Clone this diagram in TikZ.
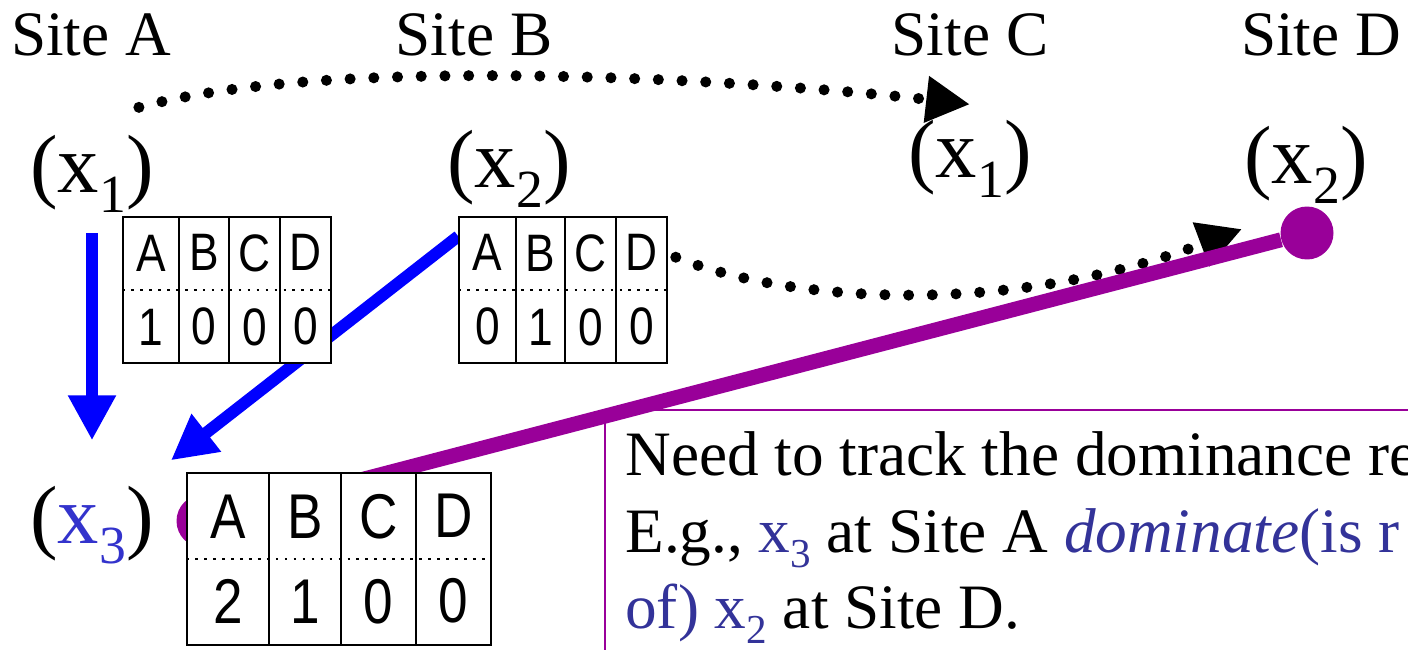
\documentclass[tikz,border=0pt]{standalone}
\usepackage{fontspec}
\setmainfont{Liberation Serif}
\newfontfamily\cellfont[FakeStretch=0.84]{Liberation Sans}
\usepackage{graphicx}
\usetikzlibrary{arrows.meta,calc,backgrounds}
\definecolor{RepBlue}{HTML}{0000FF}
\definecolor{RepPurple}{HTML}{990099}
\definecolor{RepInk}{HTML}{333399}
\definecolor{RepVar}{HTML}{3333CC}
\newcommand{\vname}[1]{x\raisebox{-0.25em}{\scalebox{0.65}{#1}}}

\begin{document}
\begin{tikzpicture}[x=0.02cm, y=-0.02cm,
    site/.style={
      font=\fontsize{36}{43}\selectfont,
      anchor=base,
      inner sep=0pt
    },
    var/.style={
      font=\fontsize{47}{56}\selectfont,
      anchor=base,
      inner sep=0pt
    },
    cell/.style={
      draw,
      line width=0.9pt,
      fill=white,
      inner sep=0pt,
      align=center,
      minimum height=2.92cm,
      font=\cellfont\fontsize{30}{42}\selectfont
    },
    bigcell/.style={
      cell,
      minimum height=3.44cm,
      font=\cellfont\fontsize{36}{48.4}\selectfont
    },
    rowline/.style={
      line width=1.5pt,
      dash pattern=on 1.5pt off 3.6pt
    },
    flow/.style={
      -{Triangle[length=25.6pt,width=25.6pt]},
      line width=6.8pt,
      color=RepBlue
    },
    hop/.style={
      -{Triangle[length=25pt,width=25pt]},
      line width=6.3pt,
      line cap=round,
      dash pattern=on 0pt off 13.5pt
    },
    link/.style={
      line width=8.5pt,
      color=RepPurple
    },
    dot/.style={
      circle,
      fill=RepPurple,
      minimum size=1.06cm,
      inner sep=0pt
    },
    note/.style={
      font=\fontsize{36}{43}\selectfont,
      anchor=base west,
      inner sep=0pt
    }
  ]
  \useasboundingbox (0,0) rectangle (1408,649);
  \clip (0,0) rectangle (1408,649);

  % Sites
  \node[site] (sa) at (91,55)   {Site A};
  \node[site] (sb) at (474,55)  {Site B};
  \node[site] (sc) at (970,55)  {Site C};
  \node[site] (sd) at (1321,55) {Site D};

  % Copies
  \node[var] (x1a) at (92,192)   {(\vname{1})};
  \node[var] (x2b) at (509,187)  {(\vname{2})};
  \node[var] (x1c) at (970,177)  {(\vname{1})};
  \node[var] (x2d) at (1306,183) {(\vname{2})};
  \node[var] (x3a) at (92,543)   {({\color{RepVar}\vname{3}})};

  % Version vectors
  \foreach \n/\x/\w/\l/\v in {a/151/1.12cm/A/1, b/204/1.0cm/B/0,
                              c/254.5/1.02cm/C/0, d/305.5/1.02cm/D/0}
    \node[cell, minimum width=\w] (s1-\n) at (\x,290) {\l\\\v};
  \foreach \n/\x/\w/\l/\v in {a/487.5/1.14cm/A/0, b/540.5/0.98cm/B/1,
                              c/590.5/1.02cm/C/0, d/641.5/1.02cm/D/0}
    \node[cell, minimum width=\w] (s2-\n) at (\x,290) {\l\\\v};
  \foreach \n/\x/\w/\l/\v in {a/228/1.64cm/A/2, b/305/1.44cm/B/1,
                              c/378.5/1.5cm/C/0, d/453.5/1.5cm/D/0}
    \node[bigcell, minimum width=\w] (s3-\n) at (\x,559) {\l\\\v};

  \foreach \t in {1,2,3}
    \draw[rowline] (s\t-a.west) -- (s\t-d.east);

  % Note
  \node[note] (l1) at (625,475) {Need to track the dominance re};
  \node[note] (l2) at (625,552)
    {E.g., {\color{RepInk}\vname{3}} at Site A {\color{RepInk}\textit{dominate}(is r}};
  \node[note] (l3) at (625,628) {{\color{RepInk}of) \vname{2}} at Site D.};

  \begin{pgfonlayer}{background}
    \clip (0,0) rectangle (1408,649);
    \draw[RepPurple, line width=1.1pt] (605,410) rectangle (1440,680);

    \draw[flow, shorten <=11.4pt, shorten >=25.6pt] (x1a.south) -- (x3a.north);
    \draw[flow] ($(s2-a.north west)+(0,20)$) -- ($(x3a.north east)+(17,-25)$);

    \draw[hop] ($(s2-d.north east)+(8,41)$)
      .. controls (780,300) and (1000,320) .. ($(x2d.south west)+(-2,25)$);

    \node[dot] (dx3) at (203,521) {};
    \node[dot] (dx2) at (1307,233) {};
    \draw[link] (dx3) -- (dx2);
  \end{pgfonlayer}

  \draw[hop] ($(x1a.north east)+(-15,-27)$)
    .. controls (350,50) and (800,85) .. ($(x1c.north)+(0,-15)$);

\end{tikzpicture}
\end{document}
